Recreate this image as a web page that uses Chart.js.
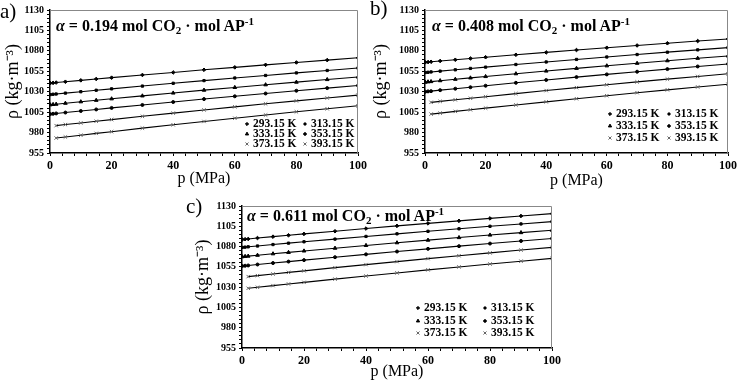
<!DOCTYPE html>
<html>
<head>
<meta charset="utf-8">
<script src="https://cdn.jsdelivr.net/npm/chart.js@4/dist/chart.umd.min.js"></script>
<style>
  body { margin: 0; background: #fff; }
  #wrap { position: relative; width: 740px; height: 381px; overflow: hidden; font-family: "Liberation Serif", serif; }
  canvas { position: absolute; }
  .lbl { position: absolute; font-family: "Liberation Serif", serif; color: #000; white-space: nowrap; line-height: 1; }
  .panel { font-size: 21px; }
  .alpha { font-size: 16px; font-weight: bold; }
  .alpha sub, .alpha sup { font-size: 11px; }
  .alpha sub { vertical-align: -3px; }
  .alpha sup { vertical-align: 6px; }
</style>
</head>
<body>
<div id="wrap">
  <canvas id="chartA" width="370" height="190" style="left:0;top:0"></canvas>
  <canvas id="chartB" width="370" height="190" style="left:370px;top:0"></canvas>
  <canvas id="chartC" width="420" height="191" style="left:160px;top:190px"></canvas>
  <div class="lbl panel" style="left:0;top:1px">a)</div>
  <div class="lbl panel" style="left:370px;top:-2px">b)</div>
  <div class="lbl panel" style="left:186px;top:196px">c)</div>
  <div class="lbl alpha" style="left:56px;top:16px"><i>α</i> = 0.194 mol CO<sub>2</sub> · mol AP<sup>-1</sup></div>
  <div class="lbl alpha" style="left:432px;top:16px"><i>α</i> = 0.408 mol CO<sub>2</sub> · mol AP<sup>-1</sup></div>
  <div class="lbl alpha" style="left:247px;top:206px"><i>α</i> = 0.611 mol CO<sub>2</sub> · mol AP<sup>-1</sup></div>
</div>
<script>
// pressures (MPa)
const pLow = [0.1, 1, 2, 5, 10, 15, 20, 30, 40, 50, 60, 70, 80, 90, 100];
const pHigh = [2, 5, 10, 15, 20, 30, 40, 50, 60, 70, 80, 90, 100];
const temps = ['293.15 K', '313.15 K', '333.15 K', '353.15 K', '373.15 K', '393.15 K'];
const xTickLabels = [0, 20, 40, 60, 80, 100];
const yTickLabels = [955, 980, 1005, 1030, 1055, 1080, 1105, 1130];

// densities (kg/m3), alpha = 0.194
const a293 = [1040.5, 1040.8, 1041.2, 1042.2, 1043.9, 1045.6, 1047.2, 1050.5, 1053.6, 1056.8, 1059.8, 1062.9, 1065.8, 1068.7, 1071.5];
const a313 = [1026.5, 1026.9, 1027.2, 1028.3, 1030.0, 1031.8, 1033.5, 1036.9, 1040.3, 1043.6, 1046.8, 1049.9, 1053.0, 1056.0, 1059.0];
const a333 = [1014.0, 1014.4, 1014.7, 1015.9, 1017.7, 1019.5, 1021.3, 1024.9, 1028.4, 1031.9, 1035.2, 1038.5, 1041.7, 1044.9, 1048.0];
const a353 = [1002.6, 1003.0, 1003.4, 1004.5, 1006.4, 1008.3, 1010.2, 1013.8, 1017.4, 1021.0, 1024.4, 1027.8, 1031.2, 1034.4, 1037.6];
const a373 = [988.5, 989.8, 991.8, 993.9, 995.9, 999.9, 1003.8, 1007.7, 1011.5, 1015.2, 1018.8, 1022.3, 1025.8];
const a393 = [973.3, 974.6, 976.8, 979.0, 981.1, 985.4, 989.5, 993.6, 997.6, 1001.5, 1005.4, 1009.1, 1012.8];

// alpha = 0.408
const b293 = [1066.0, 1066.3, 1066.6, 1067.6, 1069.1, 1070.7, 1072.2, 1075.2, 1078.1, 1081.0, 1083.8, 1086.6, 1089.3, 1092.0, 1094.6];
const b313 = [1053.5, 1053.8, 1054.2, 1055.2, 1056.8, 1058.5, 1060.1, 1063.3, 1066.4, 1069.5, 1072.5, 1075.5, 1078.4, 1081.2, 1084.0];
const b333 = [1041.7, 1042.1, 1042.4, 1043.5, 1045.2, 1046.9, 1048.6, 1052.0, 1055.3, 1058.6, 1061.7, 1064.8, 1067.9, 1070.9, 1073.8];
const b353 = [1030.0, 1030.4, 1030.7, 1031.9, 1033.7, 1035.5, 1037.3, 1040.9, 1044.4, 1047.9, 1051.2, 1054.5, 1057.7, 1060.9, 1064.0];
const b373 = [1017.0, 1018.2, 1020.1, 1022.0, 1023.9, 1027.7, 1031.4, 1035.0, 1038.5, 1042.0, 1045.4, 1048.7, 1052.0];
const b393 = [1002.6, 1003.8, 1005.9, 1007.9, 1009.9, 1013.8, 1017.6, 1021.4, 1025.1, 1028.8, 1032.3, 1035.8, 1039.2];

// alpha = 0.611
const c293 = [1088.7, 1089.1, 1089.4, 1090.5, 1092.2, 1093.9, 1095.6, 1098.9, 1102.2, 1105.5, 1108.6, 1111.7, 1114.7, 1117.7, 1120.6];
const c313 = [1079.0, 1079.3, 1079.7, 1080.7, 1082.5, 1084.2, 1085.9, 1089.2, 1092.5, 1095.7, 1098.8, 1101.9, 1105.0, 1107.9, 1110.8];
const c333 = [1067.5, 1067.9, 1068.2, 1069.3, 1071.1, 1072.8, 1074.6, 1078.0, 1081.4, 1084.7, 1087.9, 1091.1, 1094.2, 1097.2, 1100.2];
const c353 = [1056.0, 1056.4, 1056.7, 1057.9, 1059.7, 1061.5, 1063.3, 1066.9, 1070.4, 1073.9, 1077.2, 1080.5, 1083.7, 1086.9, 1090.0];
const c373 = [1043.0, 1044.2, 1046.2, 1048.2, 1050.1, 1054.0, 1057.8, 1061.5, 1065.2, 1068.7, 1072.2, 1075.7, 1079.0];
const c393 = [1028.6, 1029.8, 1031.9, 1033.9, 1035.9, 1039.9, 1043.7, 1047.5, 1051.3, 1054.9, 1058.5, 1062.0, 1065.4];

const markers = [
  { style: 'rectRot', r: 1.8, color: '#000' },
  { style: 'rect', r: 1.6, color: '#000' },
  { style: 'triangle', r: 2.1, color: '#000' },
  { style: 'circle', r: 1.5, color: '#000' },
  { style: 'crossRot', r: 2.4, color: '#666' },
  { style: 'crossRot', r: 2.4, color: '#666' }
];

function makeSets(series) {
  return series.map((vals, i) => {
    const xs = i < 4 ? pLow : pHigh;
    const m = markers[i];
    return {
      label: temps[i],
      data: vals.map((v, k) => ({ x: xs[k], y: v })),
      showLine: true,
      borderColor: '#000',
      borderWidth: 1.1,
      pointStyle: m.style,
      pointRadius: m.r,
      pointBackgroundColor: m.color,
      pointBorderColor: m.color,
      pointBorderWidth: 1
    };
  });
}

// top/right frame plus the legend inside the plot
const framePlugin = {
  id: 'frame',
  afterDraw(chart, args, opts) {
    const { ctx, chartArea: a } = chart;
    ctx.save();
    ctx.strokeStyle = '#888';
    ctx.lineWidth = 1;
    ctx.beginPath();
    ctx.moveTo(a.left, a.top + 0.5);
    ctx.lineTo(a.right - 0.5, a.top + 0.5);
    ctx.lineTo(a.right - 0.5, a.bottom);
    ctx.stroke();

    ctx.font = 'bold 11.5px "Liberation Serif"';
    ctx.textBaseline = 'middle';
    temps.forEach((t, i) => {
      const col = i % 2, row = Math.floor(i / 2);
      const mx = a.right + opts.cols[col];
      const y = a.bottom + opts.rows[row];
      const m = markers[i];
      ctx.strokeStyle = m.color;
      ctx.fillStyle = m.color;
      ctx.lineWidth = 1;
      Chart.helpers.drawPoint(ctx, { pointStyle: m.style, radius: m.r * 0.9, rotation: 0, borderWidth: 1 }, mx, y);
      ctx.fillStyle = '#000';
      ctx.fillText(t, mx + opts.gap, y + 0.5);
    });
    ctx.restore();
  }
};

function makeChart(id, series, lay) {
  new Chart(document.getElementById(id), {
    type: 'scatter',
    data: { datasets: makeSets(series) },
    plugins: [framePlugin],
    options: {
      responsive: false,
      animation: false,
      devicePixelRatio: 1,
      layout: { padding: lay.padding },
      plugins: {
        legend: { display: false },
        tooltip: { enabled: false },
        frame: lay.legend
      },
      scales: {
        x: {
          type: 'linear', min: 0, max: 100,
          afterFit(s) { s.height = lay.xh; },
          border: { color: '#000', width: 1.5 },
          grid: { drawOnChartArea: false, color: '#000', tickLength: 3 },
          ticks: {
            stepSize: 4, autoSkip: false, maxRotation: 0, maxTicksLimit: 100, padding: 3,
            color: '#000', font: { family: 'Liberation Serif', size: 12, weight: 'bold' },
            callback: v => xTickLabels.includes(v) ? String(v) : ''
          },
          title: {
            display: true, text: 'p (MPa)', color: '#000',
            font: { family: 'Liberation Serif', size: 16 },
            padding: { top: 0, bottom: lay.xtPad }
          }
        },
        y: {
          type: 'linear', min: 955, max: 1130,
          afterFit(s) { s.width = lay.yw; },
          border: { color: '#000', width: 1.5 },
          grid: { drawOnChartArea: false, color: '#000', tickLength: 3 },
          ticks: {
            stepSize: 5, autoSkip: false, maxTicksLimit: 100, padding: 3,
            color: '#000', font: { family: 'Liberation Serif', size: 10, weight: 'bold' },
            callback: v => yTickLabels.includes(v) ? String(v) : ''
          },
          title: {
            display: true, text: 'ρ (kg·m⁻³)', color: '#000',
            font: { family: 'Liberation Serif', size: 18 },
            padding: { top: lay.ytPad, bottom: 0 }
          }
        }
      }
    }
  });
}

makeChart('chartA', [a293, a313, a333, a353, a373, a393], {
  padding: { left: 0, right: 11, top: 10, bottom: 0 }, xh: 37, yw: 50, xtPad: 2, ytPad: 2,
  legend: { cols: [-111, -53], rows: [-29, -19, -9], gap: 6 }
});
makeChart('chartB', [b293, b313, b333, b353, b373, b393], {
  padding: { left: 0, right: 9, top: 10, bottom: 0 }, xh: 37, yw: 55, xtPad: 0, ytPad: 0,
  legend: { cols: [-118, -59], rows: [-39, -27, -15], gap: 6 }
});
makeChart('chartC', [c293, c313, c333, c353, c373, c393], {
  padding: { left: 30, right: 28, top: 16, bottom: 0 }, xh: 33, yw: 52, xtPad: 0, ytPad: 2,
  legend: { cols: [-134, -67], rows: [-40, -27, -15], gap: 6 }
});
</script>
</body>
</html>
